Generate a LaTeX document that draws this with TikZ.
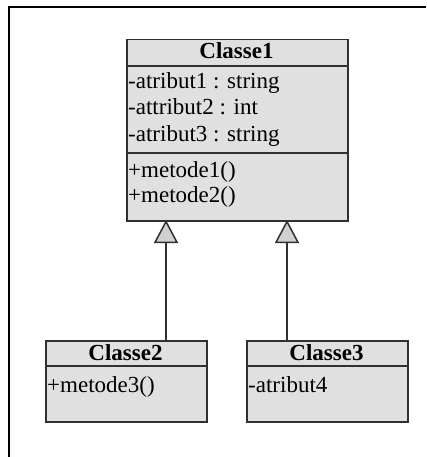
\documentclass[tikz,border=0pt]{standalone}
\usepackage{fontspec}
\setmainfont{Liberation Serif}
\usetikzlibrary{arrows.meta}
\definecolor{boxfill}{HTML}{E0E0E0}
\definecolor{tipfill}{HTML}{D0D0D0}
\definecolor{boxline}{HTML}{303030}
\begin{document}
\begin{tikzpicture}[x=1pt,y=-1pt,
  classbox/.style={draw=boxline, fill=boxfill, line width=1.5pt, anchor=north west, inner sep=0pt},
  sep/.style={draw=boxline, line width=1.5pt},
  member/.style={anchor=base west, inner sep=0pt, font=\fontsize{23}{26}\selectfont},
  title/.style={anchor=base, inner sep=0pt, font=\fontsize{23}{26}\selectfont\bfseries},
  inherit/.style={draw=boxline, line width=1.5pt, -{Triangle[width=24pt,length=23pt,fill=tipfill]}}]
\useasboundingbox (0,0) rectangle (426,457);
\draw[line width=2.5pt] (426,7) -- (9,7) -- (9,457);
% Classe1
\node[classbox, minimum width=221pt, minimum height=181pt] (c1) at (126,39) {};
\draw[sep] (126,66) -- (347,66);
\draw[sep] (126,153) -- (347,153);
\node[title] (c1t) at (236.5,59) {Classe1};
\node[member] (c1a1) at (128,89) {-atribut1 : string};
\node[member] (c1a2) at (128,115) {-attribut2 : int};
\node[member] (c1a3) at (128,142) {-atribut3 : string};
\node[member] (c1m1) at (128,177) {+metode1()};
\node[member] (c1m2) at (128,202) {+metode2()};
% Classe2
\node[classbox, minimum width=161pt, minimum height=81pt] (c2) at (45,340) {};
\draw[sep] (45,366) -- (206,366);
\node[title] (c2t) at (125.5,360) {Classe2};
\node[member] (c2m1) at (47,392) {+metode3()};
% Classe3
\node[classbox, minimum width=161pt, minimum height=81pt] (c3) at (246,340) {};
\draw[sep] (246,366) -- (407,366);
\node[title] (c3t) at (326.5,360) {Classe3};
\node[member] (c3a1) at (248,392) {-atribut4};
% connectors
\coordinate (s2) at (166,340);
\coordinate (e2) at (166,220);
\coordinate (s3) at (287,340);
\coordinate (e3) at (287,220);
\draw[inherit] (s2) -- (e2);
\draw[inherit] (s3) -- (e3);
\end{tikzpicture}
\end{document}
